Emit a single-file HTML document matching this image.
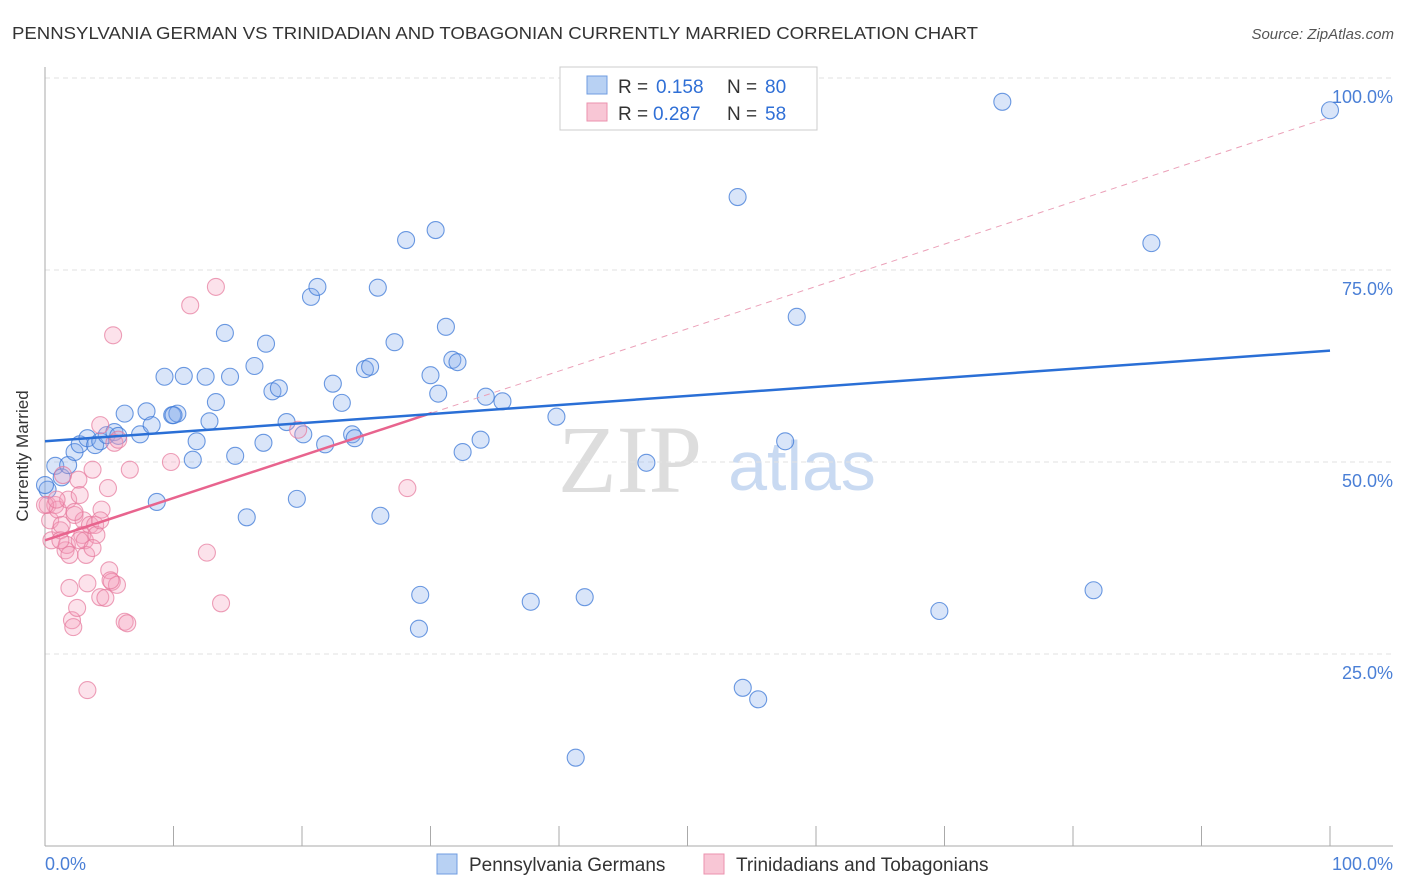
<!DOCTYPE html>
<html><head><meta charset="utf-8"><style>
body{margin:0;background:#fff;font-family:"Liberation Sans",sans-serif}
svg{display:block}
</style></head><body>
<svg id="chart" width="1406" height="892">
<text x="12" y="39" font-size="17.5" fill="#333" textLength="966" lengthAdjust="spacingAndGlyphs">PENNSYLVANIA GERMAN VS TRINIDADIAN AND TOBAGONIAN CURRENTLY MARRIED CORRELATION CHART</text>
<text x="1394" y="39" font-size="15" fill="#555" font-style="italic" text-anchor="end">Source: ZipAtlas.com</text>
<text x="28" y="456" font-size="17" fill="#333" text-anchor="middle" transform="rotate(-90 28 456)">Currently Married</text>
<text x="630" y="492" font-size="96" fill="#ddd" font-family="Liberation Serif,serif" text-anchor="middle">ZIP</text>
<text x="802" y="490" font-size="70" fill="#c9daf2" text-anchor="middle">atlas</text>
<g id="grid"></g><g id="marks"></g>
<g>
<rect x="560" y="67" width="257" height="63" fill="#fff" stroke="#ccc"/>
<rect x="587" y="76" width="20" height="18" fill="#b8d1f3" stroke="#6f9ce0"/>
<rect x="587" y="103" width="20" height="18" fill="#f8c6d5" stroke="#eb92ae"/>
<text x="618" y="93" font-size="19" fill="#333">R = <tspan x="656" fill="#2f6fd6">0.158</tspan><tspan x="727">N = </tspan><tspan x="765" fill="#2f6fd6">80</tspan></text>
<text x="618" y="120" font-size="19" fill="#333">R = <tspan x="653" fill="#2f6fd6">0.287</tspan><tspan x="727">N = </tspan><tspan x="765" fill="#2f6fd6">58</tspan></text>
</g>
<g>
<rect x="437" y="854" width="20" height="20" fill="#b8d1f3" stroke="#6f9ce0"/>
<text x="469" y="871" font-size="19" fill="#333">Pennsylvania Germans</text>
<rect x="704" y="854" width="20" height="20" fill="#f8c6d5" stroke="#eb92ae"/>
<text x="736" y="871" font-size="19" fill="#333">Trinidadians and Tobagonians</text>
</g>
</svg>
<script>
const blueX=[0.2,0.8,1.3,1.8,2.3,2.7,3.3,3.9,4.3,4.8,5.4,5.7,6.2,7.4,7.9,8.3,8.7,9.3,9.9,10.3,10.8,11.8,11.5,12.5,12.8,13.3,14.0,14.4,14.8,15.7,16.3,17.0,17.2,17.7,18.2,18.8,19.6,20.1,20.7,21.2,21.8,22.4,23.1,23.9,24.1,24.9,25.3,25.9,26.1,27.2,28.1,29.2,29.1,30.0,30.4,30.6,31.2,31.7,32.1,32.5,33.9,34.3,35.6,37.8,39.8,41.3,42.0,46.8,53.9,54.3,55.5,57.6,58.5,69.6,74.5,81.6,86.1,100,0,10.0,50.0];
const blueY=[46.4,49.5,48.0,49.6,51.3,52.3,53.1,52.2,52.7,53.5,53.9,53.4,56.3,53.6,56.6,54.8,44.8,61.1,56.1,56.3,61.2,52.7,50.3,61.1,55.3,57.8,66.8,61.1,50.8,42.8,62.5,52.5,65.4,59.2,59.6,55.2,45.2,53.6,71.5,72.8,52.3,60.2,57.7,53.6,53.1,62.1,62.4,72.7,43.0,65.6,78.9,32.7,28.3,61.3,80.2,58.9,67.6,63.3,63.0,51.3,52.9,58.5,57.9,31.8,55.9,11.5,32.4,49.9,84.5,20.6,19.1,52.7,68.9,30.6,96.9,33.3,78.5,95.8,47.0,56.1,99.5];
const pinkX=[0.2,0.4,0.5,0.8,1.0,1.2,1.3,1.6,1.7,1.8,1.9,2.1,2.2,2.3,2.5,2.6,2.7,2.9,3.0,3.1,3.2,3.3,3.3,3.5,3.7,3.9,4.0,4.3,4.3,4.4,4.7,4.9,5.0,5.2,5.3,5.4,5.6,5.7,6.2,6.4,6.6,9.8,11.3,12.6,13.3,13.7,19.7,28.2,0,0.9,1.4,1.9,2.7,3.7,4.3,5.1,1.2,2.3];
const pinkY=[44.4,42.4,39.8,44.4,43.8,41.1,41.8,38.5,39.2,45.1,33.6,29.4,28.5,43.1,31.0,47.7,45.7,40.5,42.4,39.8,37.9,20.3,34.2,41.8,49.0,41.8,40.5,54.8,32.4,43.8,32.3,46.6,35.9,34.4,66.5,52.5,34.0,52.9,29.2,29.0,49.0,50.0,70.4,38.2,72.8,31.6,54.2,46.6,44.4,45.1,48.3,37.9,39.8,38.8,42.4,34.6,39.8,43.5];
const blueTrend=[52.7,64.5];
const pinkTrend=[39.8,94.9];
const pinkSolidEnd=30.1;
const yTicks=[25,50,75,100];
const xTicks=[0,10,20,30,40,50,60,70,80,90,100];
const NS="http://www.w3.org/2000/svg";
const sx=v=>45+v*12.85, sy=v=>846-v*7.68;
function mk(t,a,p){const e=document.createElementNS(NS,t);for(const k in a)e.setAttribute(k,a[k]);p.appendChild(e);return e;}
const grid=document.getElementById('grid'),marks=document.getElementById('marks');
yTicks.forEach(v=>{
 const l=mk('line',{x1:45,x2:1393,y1:sy(v),y2:sy(v),stroke:'#e2e2e2','stroke-dasharray':'5,4'},grid);
 
 
 const t=mk('text',{x:1393,y:sy(v)+25,'font-size':18,fill:'#4a7fd6','text-anchor':'end'},grid);t.textContent=v.toFixed(1)+'%';
 
 
});
mk('line',{x1:45,x2:45,y1:67,y2:846,stroke:'#aaa'},grid);
mk('line',{x1:45,x2:1393,y1:846,y2:846,stroke:'#aaa'},grid);
xTicks.forEach(v=>{const l=mk('line',{x1:sx(v),x2:sx(v),y1:826,y2:846,stroke:'#aaa'},grid);
 
 });
[[0,'start'],[100,'end']].forEach(([v,a])=>{const t=mk('text',{x:v==0?45:1393,y:870,'font-size':18,fill:'#4a7fd6','text-anchor':a},grid);t.textContent=v.toFixed(1)+'%';
 
 });
blueX.forEach((x,i)=>{const c=mk('circle',{cx:sx(x),cy:sy(blueY[i]),r:8.5,fill:'rgba(130,170,235,0.3)',stroke:'rgba(60,120,215,0.75)','stroke-width':1.1},marks);
 
 });
pinkX.forEach((x,i)=>{const c=mk('circle',{cx:sx(x),cy:sy(pinkY[i]),r:8.5,fill:'rgba(245,160,188,0.3)',stroke:'rgba(230,120,155,0.7)','stroke-width':1.1},marks);
 
 });
const pv=x=>pinkTrend[0]+(pinkTrend[1]-pinkTrend[0])*x/100;
const pd=mk('line',{x1:sx(pinkSolidEnd),y1:sy(pv(pinkSolidEnd)),x2:sx(100),y2:sy(pinkTrend[1]),stroke:'#eba0b8','stroke-dasharray':'6,5','stroke-width':1},marks);


const ps=mk('line',{x1:sx(0),y1:sy(pinkTrend[0]),x2:sx(pinkSolidEnd),y2:sy(pv(pinkSolidEnd)),stroke:'#e8648e','stroke-width':2.5},marks);


const bl=mk('line',{x1:sx(0),y1:sy(blueTrend[0]),x2:sx(100),y2:sy(blueTrend[1]),stroke:'#2a6fd6','stroke-width':2.5},marks);


</script>
</body></html>
